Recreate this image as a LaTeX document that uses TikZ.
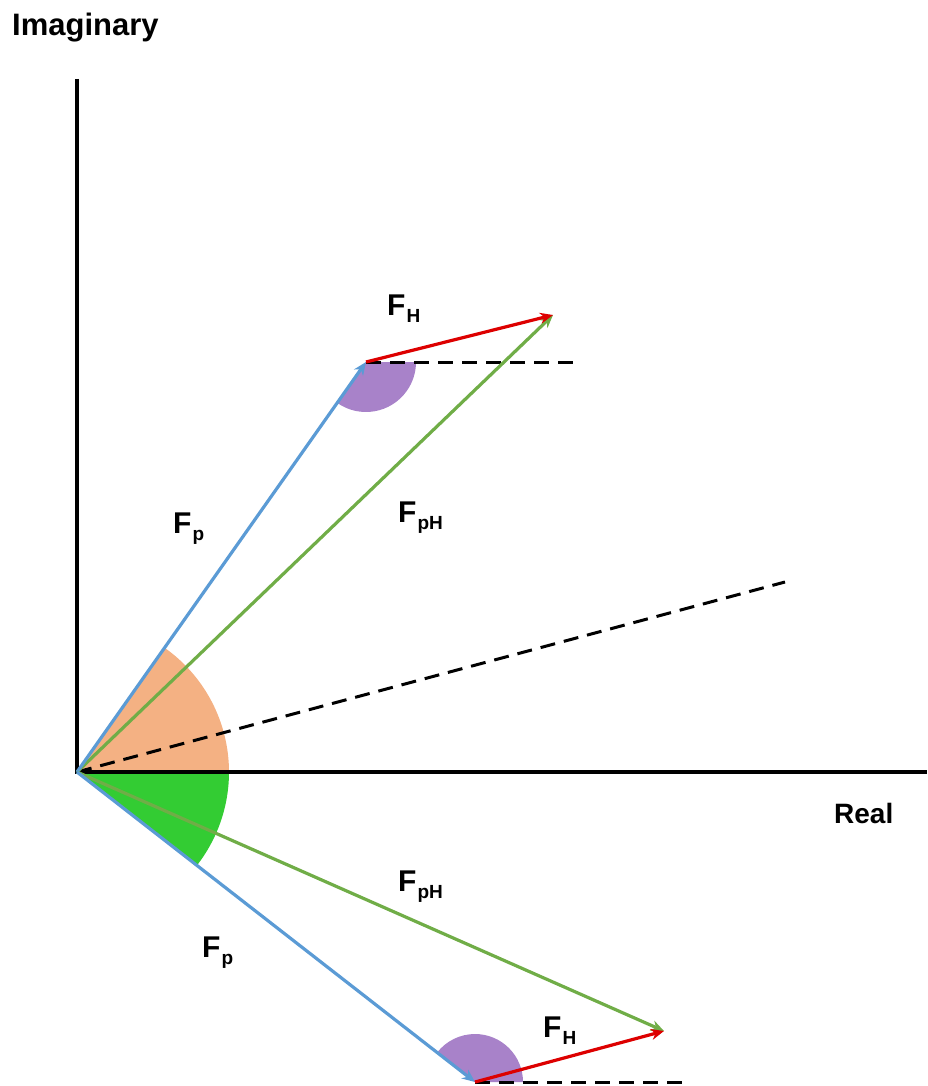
\documentclass[tikz,border=0pt]{standalone}
\usepackage{fontspec}
\setmainfont{Liberation Sans}
\usetikzlibrary{arrows.meta,angles}
\definecolor{vblue}{HTML}{5B9BD5}
\definecolor{vgreen}{HTML}{70AD47}
\definecolor{vred}{HTML}{DD0000}
\definecolor{sorange}{HTML}{F4B183}
\definecolor{sgreen}{HTML}{33CC33}
\definecolor{spurple}{HTML}{A882C9}
\newcommand{\mainf}{\fontsize{30}{34}\selectfont\bfseries}
\newcommand{\subf}{\fontsize{19}{21}\selectfont\bfseries}
\newcommand{\vlabel}[1]{{\mainf F\kern1pt\raisebox{-7pt}{\subf #1}}}
\begin{document}
\begin{tikzpicture}[x=1pt,y=-1pt,
  axis/.style={line width=3.5pt,black},
  dashline/.style={line width=3pt,black,dash pattern=on 15pt off 9pt},
  vec/.style={line width=3.2pt,-{Stealth[length=13pt,width=11pt]}},
  lbl/.style={inner sep=0pt,anchor=base west}]
\useasboundingbox (0,0) rectangle (927,1086);
% points
\coordinate (O) at (77,772);
\coordinate (Ytop) at (77,79);
\coordinate (Xend) at (927,772);
\coordinate (A) at (366,362);
\coordinate (C) at (553,315);
\coordinate (Adash) at (580,362);
\coordinate (D) at (785,582);
\coordinate (B) at (475,1082);
\coordinate (E) at (664,1031);
\coordinate (Bdash) at (690,1082);
% sectors
\pic[fill=sorange,draw=none,angle radius=152pt] {angle = Xend--O--A};
\pic[fill=sgreen,draw=none,angle radius=152pt] {angle = B--O--Xend};
\pic[fill=spurple,draw=none,angle radius=50pt] {angle = O--A--Adash};
\pic[fill=spurple,draw=none,angle radius=48pt] {angle = Bdash--B--O};
% axes
\draw[axis] (Ytop) -- (O) -- (Xend);
% dashed lines
\draw[dashline] (O) -- (D);
\draw[dashline] (A) -- (Adash);
\draw[dashline] (B) -- (Bdash);
% vectors
\draw[vec,vgreen] (O) -- (C);
\draw[vec,vblue] (O) -- (A);
\draw[vec,vred] (A) -- (C);
\draw[vec,vgreen] (O) -- (E);
\draw[vec,vblue] (O) -- (B);
\draw[vec,vred] (B) -- (E);
% labels
\node[lbl] (imag) at (12,36) {\fontsize{31}{34}\selectfont\bfseries Imaginary};
\node[lbl] (real) at (834,823) {\fontsize{28}{32}\selectfont\bfseries Real};
\node[lbl] (fh1) at (387,315) {\vlabel{H}};
\node[lbl] (fp1) at (173,533) {\vlabel{p}};
\node[lbl] (fph1) at (398,522) {\vlabel{pH}};
\node[lbl] (fph2) at (398,891) {\vlabel{pH}};
\node[lbl] (fp2) at (202,957) {\vlabel{p}};
\node[lbl] (fh2) at (543,1037) {\vlabel{H}};
\end{tikzpicture}
\end{document}
